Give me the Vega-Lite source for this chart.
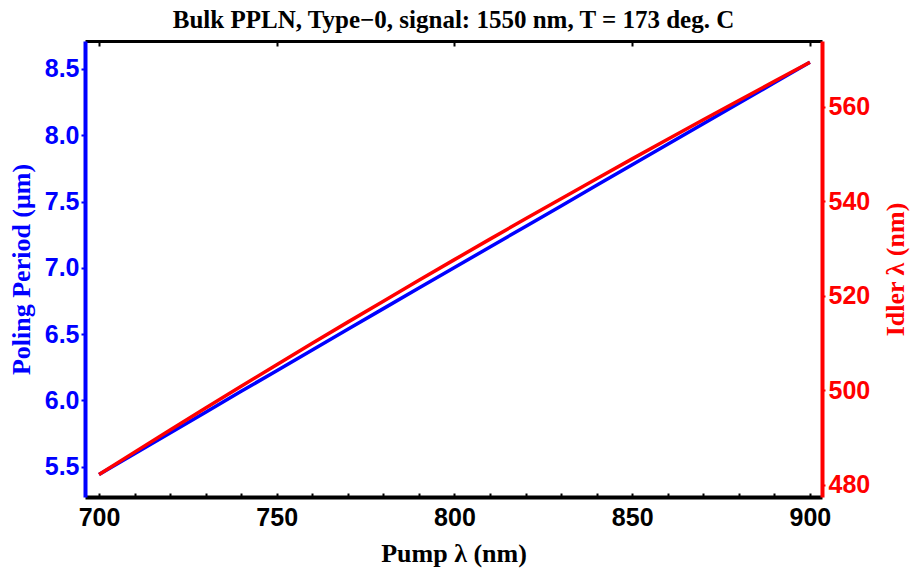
{
  "$schema": "https://vega.github.io/schema/vega-lite/v6.json",
  "autosize": "none",
  "width": 737,
  "height": 456,
  "padding": {"left": 85, "top": 41, "right": 89, "bottom": 74},
  "background": "white",
  "config": {"view": {"stroke": null}},
  "title": {
    "text": "Bulk PPLN, Type−0, signal: 1550 nm, T = 173 deg. C",
    "font": "Liberation Serif",
    "fontWeight": "bold",
    "fontSize": 25,
    "color": "black",
    "anchor": "middle",
    "offset": 7
  },
  "data": {
    "values": [
      {"pump": 700, "period": 5.440, "idler": 482.22},
      {"pump": 710, "period": 5.597, "idler": 486.95},
      {"pump": 720, "period": 5.754, "idler": 491.63},
      {"pump": 730, "period": 5.911, "idler": 496.27},
      {"pump": 740, "period": 6.068, "idler": 500.87},
      {"pump": 750, "period": 6.224, "idler": 505.43},
      {"pump": 760, "period": 6.380, "idler": 509.96},
      {"pump": 770, "period": 6.536, "idler": 514.44},
      {"pump": 780, "period": 6.692, "idler": 518.88},
      {"pump": 790, "period": 6.847, "idler": 523.29},
      {"pump": 800, "period": 7.002, "idler": 527.66},
      {"pump": 810, "period": 7.157, "idler": 531.99},
      {"pump": 820, "period": 7.312, "idler": 536.29},
      {"pump": 830, "period": 7.467, "idler": 540.55},
      {"pump": 840, "period": 7.622, "idler": 544.77},
      {"pump": 850, "period": 7.777, "idler": 548.96},
      {"pump": 860, "period": 7.932, "idler": 553.11},
      {"pump": 870, "period": 8.087, "idler": 557.23},
      {"pump": 880, "period": 8.241, "idler": 561.32},
      {"pump": 890, "period": 8.396, "idler": 565.37},
      {"pump": 900, "period": 8.550, "idler": 569.39}
    ]
  },
  "resolve": {"scale": {"y": "independent"}, "axis": {"x": "independent", "y": "independent"}},
  "layer": [
    {
      "mark": {"type": "line", "strokeOpacity": 0},
      "encoding": {
        "x": {"field": "pump", "type": "quantitative",
          "scale": {"domain": [696.06, 903.4], "nice": false, "zero": false},
          "axis": {"orient": "bottom", "values": [700,710,720,730,740,750,760,770,780,790,800,810,820,830,840,850,860,870,880,890,900],
            "labels": false, "domain": false, "grid": false, "ticks": true, "tickSize": -4, "tickWidth": 2, "tickColor": "black", "title": null}},
        "y": {"field": "period", "type": "quantitative",
          "scale": {"domain": [5.271, 8.711], "nice": false, "zero": false}, "axis": null}
      }
    },
    {
      "mark": {"type": "line", "strokeOpacity": 0},
      "encoding": {
        "x": {"field": "pump", "type": "quantitative",
          "scale": {"domain": [696.06, 903.4], "nice": false, "zero": false},
          "axis": {"orient": "top", "values": [700,750,800,850,900],
            "labels": false, "domain": true, "domainColor": "black", "domainWidth": 3, "grid": false,
            "ticks": true, "tickSize": -5, "tickWidth": 2, "tickColor": "black", "title": null}},
        "y": {"field": "period", "type": "quantitative",
          "scale": {"domain": [5.271, 8.711], "nice": false, "zero": false}, "axis": null}
      }
    },
    {
      "mark": {"type": "line", "color": "#0000ff", "strokeWidth": 3.5},
      "encoding": {
        "x": {"field": "pump", "type": "quantitative",
          "scale": {"domain": [696.06, 903.4], "nice": false, "zero": false},
          "axis": {"orient": "bottom", "values": [700,750,800,850,900], "grid": false,
            "ticks": false, "domain": true, "domainColor": "black", "domainWidth": 4,
            "labelFont": "Liberation Sans", "labelFontWeight": "bold", "labelFontSize": 25, "labelColor": "black", "labelPadding": 8,
            "title": "Pump λ (nm)", "titleFont": "Liberation Serif", "titleFontWeight": "bold", "titleFontSize": 26, "titleColor": "black", "titlePadding": 10}},
        "y": {"field": "period", "type": "quantitative",
          "scale": {"domain": [5.271, 8.711], "nice": false, "zero": false},
          "axis": {"orient": "left", "values": [5.5,6.0,6.5,7.0,7.5,8.0,8.5], "format": ".1f", "grid": false,
            "domain": true, "domainColor": "#0000ff", "domainWidth": 4,
            "ticks": true, "tickSize": 4, "tickWidth": 2, "tickColor": "#0000ff",
            "labelFont": "Liberation Sans", "labelFontWeight": "bold", "labelFontSize": 25, "labelColor": "#0000ff", "labelPadding": 2,
            "title": "Poling Period (μm)", "titleFont": "Liberation Serif", "titleFontWeight": "bold", "titleFontSize": 26, "titleColor": "#0000ff", "titlePadding": 10}}
      }
    },
    {
      "mark": {"type": "line", "color": "#ff0000", "strokeWidth": 3.5},
      "encoding": {
        "x": {"field": "pump", "type": "quantitative",
          "scale": {"domain": [696.06, 903.4], "nice": false, "zero": false}, "axis": null},
        "y": {"field": "idler", "type": "quantitative",
          "scale": {"domain": [477.46, 573.89], "nice": false, "zero": false},
          "axis": {"orient": "right", "values": [480,500,520,540,560], "grid": false,
            "domain": true, "domainColor": "#ff0000", "domainWidth": 4,
            "ticks": true, "tickSize": 3, "tickWidth": 2, "tickColor": "#ff0000",
            "labelFont": "Liberation Sans", "labelFontWeight": "bold", "labelFontSize": 25, "labelColor": "#ff0000", "labelPadding": 3,
            "title": "Idler λ (nm)", "titleAngle": 270, "titleX": 73, "titleY": 228, "titleAlign": "center", "titleBaseline": "middle",
            "titleFont": "Liberation Serif", "titleFontWeight": "bold", "titleFontSize": 26, "titleColor": "#ff0000"}}
      }
    }
  ]
}
